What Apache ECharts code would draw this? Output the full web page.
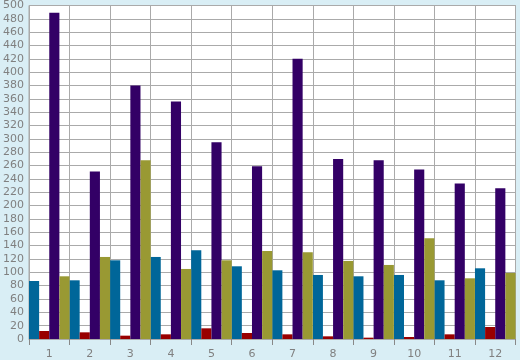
<!DOCTYPE html>
<html><head><meta charset="utf-8">
<script src="https://cdn.jsdelivr.net/npm/echarts@6/dist/echarts.min.js"></script>
<style>html,body{margin:0;padding:0;background:#d9eef5}#c{width:520px;height:360px}</style>
</head><body><div id="c"></div>
<script>
var categories = ['1','2','3','4','5','6','7','8','9','10','11','12'];
var blueValues   = [87, 88, 118, 123, 133, 109, 103, 96, 94, 96, 88, 106];
var redValues    = [12, 10, 5, 7, 16, 9, 7, 4, 2, 3, 7, 18];
var purpleValues = [489, 251, 380, 356, 295, 259, 420, 270, 268, 254, 233, 226];
var oliveValues  = [94, 123, 268, 105, 118, 132, 130, 117, 111, 151, 91, 99];
var yMin = 0, yMax = 500, yStep = 20;

var chart = echarts.init(document.getElementById('c'), null, {renderer:'canvas'});
function bar(name, data, color){
  return {name:name, type:'bar', data:data, barGap:'0%', barCategoryGap:'0%',
    itemStyle:{color:color}, animation:false};
}
chart.setOption({
  backgroundColor:'#d9eef5',
  animation:false,
  grid:{left:26, right:4.5, top:5.5, bottom:20, show:true, backgroundColor:'#ffffff', borderColor:'#aaaaaa', borderWidth:1},
  xAxis:{type:'category', data:categories, boundaryGap:true,
    axisLine:{show:true, lineStyle:{color:'#aaaaaa', width:1}},
    axisTick:{show:true, length:6, alignWithLabel:false, lineStyle:{color:'#888888'}},
    axisLabel:{color:'#808080', fontFamily:'DejaVu Sans', fontSize:11, margin:10},
    splitLine:{show:true, lineStyle:{color:'#aaaaaa', width:1}}},
  yAxis:{type:'value', min:yMin, max:yMax, interval:yStep,
    axisLine:{show:true, lineStyle:{color:'#aaaaaa'}},
    axisTick:{show:false},
    axisLabel:{color:'#808080', fontFamily:'DejaVu Sans', fontSize:11, margin:5},
    splitLine:{show:true, lineStyle:{color:'#aaaaaa', width:1}}},
  series:[
    bar('blue', blueValues, '#006699'),
    bar('red', redValues, '#990000'),
    bar('purple', purpleValues, '#330066'),
    bar('olive', oliveValues, '#999933')
  ]
});
</script></body></html>
